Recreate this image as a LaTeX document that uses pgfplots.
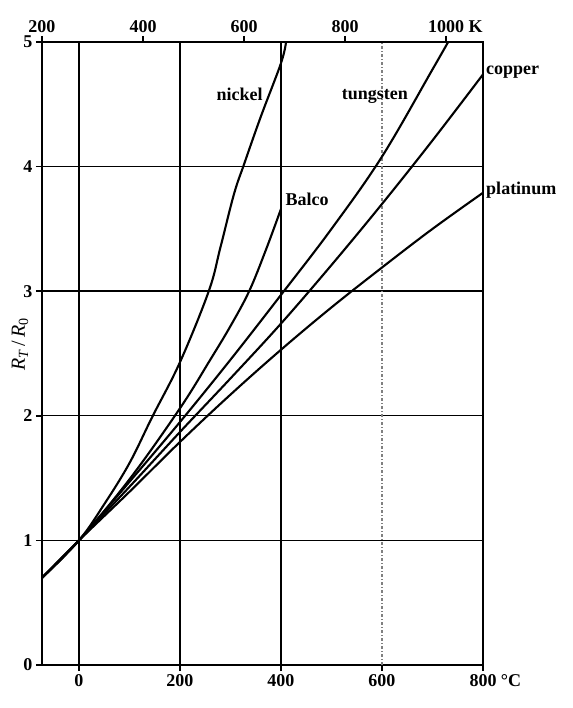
\documentclass[border=0pt]{standalone}
\usepackage{fontspec}
\setmainfont{Liberation Serif}
\usepackage{pgfplots}
\pgfplotsset{compat=1.18}
\begin{document}
\begin{tikzpicture}
\path[use as bounding box] (-42pt,-43pt) rectangle (530pt,665pt);
\begin{axis}[
  at={(0,0)}, anchor=south west,
  scale only axis, width=441pt, height=623pt,
  xmin=-73.15, xmax=800, ymin=0, ymax=5,
  xtick={0,200,400,600,800}, xticklabels={0,200,400,600,800\rlap{\ °C}},
  ytick={0,1,2,3,4,5}, yticklabels={0,1,2,3,4,5},
  xtick pos=bottom, ytick pos=left, tick align=outside,
  major tick length=6pt,
  ymajorgrids, grid style={black, line width=1.4pt},
  axis line style={line width=1.6pt},
  every tick/.style={black, line width=1.5pt},
  tick label style={font=\fontsize{18}{20}\selectfont\bfseries},
  ylabel={\textit{R}\textsubscript{\textit{T}}\,/\,\textit{R}\textsubscript{0}},
  ylabel style={font=\fontsize{20}{22}\selectfont, at={(axis description cs:0,0.515)}, yshift=22pt, anchor=center, inner sep=0pt},
  clip mode=individual,
  every axis plot/.append style={black, line width=2.1pt},
]
% vertical grid lines
\addplot[black, line width=1.4pt] coordinates {(0,0) (0,5)};
\addplot[black, line width=1.4pt] coordinates {(200,0) (200,5)};
\addplot[black, line width=1.4pt] coordinates {(400,0) (400,5)};
\addplot[gray, line width=1.2pt, dash pattern=on 3pt off 2pt on 1pt off 2pt] coordinates {(600,0) (600,5)};
% nickel
\addplot[smooth, tension=0.6] coordinates {(-73.15,0.70) (0,1.00) (50,1.29) (100,1.62) (145,1.99) (200,2.43) (257,3.00) (280,3.35) (307,3.78) (327,4.02) (360,4.40) (400,4.83) (410,5.0)};
% Balco
\addplot[smooth, tension=0.6] coordinates {(-73.15,0.70) (0,1.00) (100,1.49) (200,2.06) (260,2.45) (300,2.72) (337,3.00) (370,3.33) (400,3.66)};
% tungsten
\addplot[smooth, tension=0.6] coordinates {(-73.15,0.70) (0,1.00) (100,1.47) (200,1.95) (300,2.45) (400,2.97) (500,3.50) (600,4.08) (700,4.78) (731,5.0)};
% copper
\addplot[smooth, tension=0.6] coordinates {(-73.15,0.70) (0,1.00) (100,1.43) (200,1.87) (300,2.30) (400,2.74) (500,3.21) (600,3.70) (700,4.21) (800,4.74)};
% platinum
\addplot[smooth, tension=0.6] coordinates {(-73.15,0.70) (0,1.00) (100,1.39) (200,1.79) (300,2.17) (400,2.53) (500,2.87) (600,3.19) (700,3.50) (800,3.79)};
\begin{scope}[every node/.style={font=\fontsize{18}{20}\selectfont\bfseries, inner sep=0pt}]
\node[anchor=base east] at (axis cs:364,4.53) {nickel};
\node[anchor=base] at (axis cs:586,4.54) {tungsten};
\node[anchor=base west] at (axis cs:409,3.69) {Balco};
\node[anchor=base west] at (axis cs:806,4.74) {copper};
\node[anchor=base west] at (axis cs:806,3.78) {platinum};
\end{scope}
\end{axis}
\begin{axis}[
  at={(0,0)}, anchor=south west,
  scale only axis, width=441pt, height=623pt,
  xmin=200, xmax=1073.15, ymin=0, ymax=5,
  axis x line*=top, axis y line=none,
  xtick={200,400,600,800,1000}, xticklabels={200,400,600,800,1000\rlap{\ K}},
  tick align=outside, major tick length=6pt,
  axis line style={line width=1.6pt, -},
  every tick/.style={black, line width=1.5pt},
  tick label style={font=\fontsize{18}{20}\selectfont\bfseries},
]
\end{axis}
\end{tikzpicture}
\end{document}
